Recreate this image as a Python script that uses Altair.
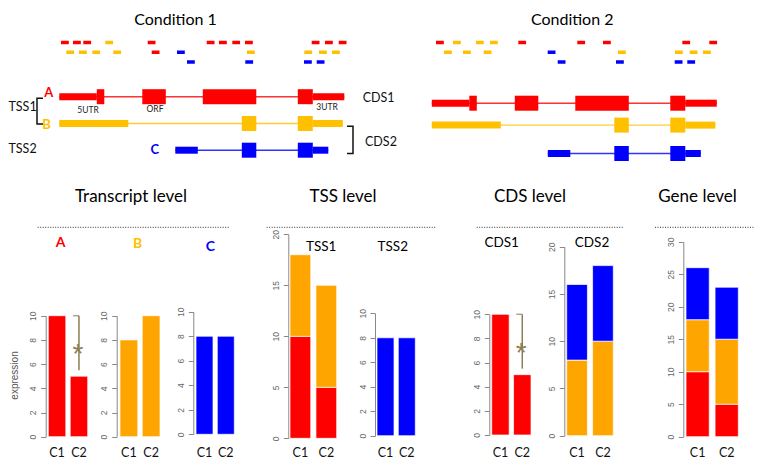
import altair as alt
import pandas as pd

# ---------------- data ----------------
transcripts = ["A", "B", "C"]
conditions = ["C1", "C2"]

# gene models, bp from the start of transcript A
exon_tx = ["A", "A", "A", "A", "A", "A", "B", "B", "B", "B", "C", "C", "C", "C"]
exon_start = [0, 375, 830, 1435, 2385, 2535, 0, 1825, 2385, 2535, 1160, 1825, 2385, 2535]
exon_end = [375, 450, 1065, 1970, 2535, 2850, 690, 1970, 2535, 2835, 1385, 1970, 2535, 2690]
exon_kind = ["UTR", "CDS", "CDS", "CDS", "CDS", "UTR", "UTR", "CDS", "CDS", "UTR", "UTR", "CDS", "CDS", "UTR"]
GENE_LEN = 2850
READ_LEN = 78

# short reads, condition 1
reads1_start = [17, 137, 240, 460, 884, 1474, 1597, 1730, 1857, 2524, 2657, 2794,
                70, 197, 330, 540, 924, 1177, 1877, 2450, 2597, 2727,
                1277, 1860, 2447, 2574]
reads1_row = [1, 1, 1, 1, 1, 1, 1, 1, 1, 1, 1, 1,
              2, 2, 2, 2, 2, 2, 2, 2, 2, 2,
              3, 3, 3, 3]
reads1_tx = ["A", "A", "A", "B", "A", "A", "A", "A", "A", "A", "A", "A",
             "B", "B", "B", "B", "A", "C", "B", "B", "B", "B",
             "C", "C", "C", "C"]
# short reads, condition 2
reads2_start = [42, 212, 442, 582, 865, 1455, 1712, 2505, 2775,
                122, 312, 519, 1159, 1862, 2432, 2579, 2712,
                1259, 1842, 2429, 2555]
reads2_row = [1, 1, 1, 1, 1, 1, 1, 1, 1,
              2, 2, 2, 2, 2, 2, 2, 2,
              3, 3, 3, 3]
reads2_tx = ["A", "B", "B", "B", "A", "A", "A", "A", "A",
             "B", "B", "B", "C", "B", "B", "B", "B",
             "C", "C", "C", "C"]

# expression per transcript (C1, C2)
expr_A = [10, 5]
expr_B = [8, 10]
expr_C = [8, 8]

# significance marker (transcript A and CDS1, condition C2)
sig_cond = ["C2"]
sig_top = [10]
sig_bottom = [5.5]
sig_star = [7.4]

# diagram annotations
letter_bp = [-60, -86, 997]
letter_track = [0.86, 2.04, 3.01]
region_names = ["5UTR", "ORF", "3UTR"]
region_bp = [287, 957, 2677]
region_track = [1.5, 1.45, 1.385]
group_names = ["TSS1", "TSS2", "CDS1", "CDS2"]
group_bp = [-508, -508, 3034, 3057]
group_track = [1.40, 2.96, 1.06, 2.71]
bracket_id = ["TSS1"] * 4 + ["CDS2"] * 4
bracket_ord = [0, 1, 2, 3, 0, 1, 2, 3]
bracket_bp = [-163, -223, -223, -163, 2877, 2937, 2937, 2877]
bracket_track = [1.06, 1.06, 2.02, 2.02, 2.1, 2.1, 3.12, 3.12]

# ---------------- style / layout ----------------
FONT = "Lato"
DIAG_COLORS = ["#FF0000", "#FFC000", "#0000FF"]
BAR_COLORS = ["#FF0000", "#FFA500", "#0000FF"]
OLIVE = "#8C7F55"
W, H = 746, 451
XLAB_Y = 444.5

exons = pd.DataFrame({"tx": exon_tx, "start": exon_start, "end": exon_end, "kind": exon_kind})
exons["track"] = exons["tx"].map({t: i + 1 for i, t in enumerate(transcripts)})
reads1 = pd.DataFrame({"start": reads1_start, "row": reads1_row, "tx": reads1_tx})
reads2 = pd.DataFrame({"start": reads2_start, "row": reads2_row, "tx": reads2_tx})


def txt(text, x, y, size, color="#000000", weight="normal", font=FONT, align="center", baseline="middle"):
    return alt.Chart(pd.DataFrame({"t": [text]})).mark_text(
        font=font, fontSize=size, color=color, fontWeight=weight, align=align, baseline=baseline
    ).encode(text="t:N", x=alt.value(x), y=alt.value(y))


def sep(x0, x1, y):
    return alt.Chart(pd.DataFrame({"k": [0]})).mark_rule(
        strokeDash=[1, 1.5], color="#333333", strokeWidth=1
    ).encode(x=alt.value(x0), x2=alt.value(x1), y=alt.value(y))


def diagram(xr, yr, reads, annotate=False):
    xs = alt.Scale(domain=[0, GENE_LEN], range=xr, nice=False, zero=False)
    ys = alt.Scale(domain=[1, 2, 3], range=yr, nice=False, zero=False)
    cs = alt.Scale(domain=transcripts, range=DIAG_COLORS)
    col = alt.Color("tx:N", scale=cs, legend=None)
    base = alt.Chart(exons)
    intr = base.mark_rule(strokeWidth=1.4, opacity=0.8).encode(
        x=alt.X("min(start):Q", scale=xs, axis=None),
        x2="max(end):Q",
        y=alt.Y("track:Q", scale=ys, axis=None),
        color=col,
    )
    ex = base.mark_rule(strokeCap="butt").encode(
        x=alt.X("start:Q", scale=xs, axis=None),
        x2="end:Q",
        y=alt.Y("track:Q", scale=ys, axis=None),
        color=col,
        strokeWidth=alt.StrokeWidth("kind:N", scale=alt.Scale(domain=["UTR", "CDS"], range=[7, 15]), legend=None),
    )
    rd = alt.Chart(reads).transform_calculate(end=f"datum.start + {READ_LEN}").mark_rule(
        strokeWidth=3.5, strokeCap="butt"
    ).encode(
        x=alt.X("start:Q", scale=xs, axis=None),
        x2="end:Q",
        y=alt.Y("row:Q", scale=alt.Scale(domain=[1, 3], range=[34.5, 54], nice=False, zero=False), axis=None),
        color=col,
    )
    out = [intr, ex, rd]
    if annotate:
        letters = alt.Chart(pd.DataFrame({"tx": transcripts, "bp": letter_bp, "track": letter_track})).mark_text(
            font=FONT, fontSize=13, fontWeight="bold", align="right", baseline="middle"
        ).encode(
            x=alt.X("bp:Q", scale=xs, axis=None),
            y=alt.Y("track:Q", scale=ys, axis=None),
            text="tx:N",
            color=col,
        )
        regions = alt.Chart(pd.DataFrame({"n": region_names, "bp": region_bp, "track": region_track})).mark_text(
            font=FONT, fontSize=8.5, color="#222222", align="center", baseline="middle"
        ).encode(
            x=alt.X("bp:Q", scale=xs, axis=None),
            y=alt.Y("track:Q", scale=ys, axis=None),
            text="n:N",
        )
        groups = alt.Chart(pd.DataFrame({"n": group_names, "bp": group_bp, "track": group_track})).mark_text(
            font=FONT, fontSize=12.5, color="#111111", align="left", baseline="middle"
        ).encode(
            x=alt.X("bp:Q", scale=xs, axis=None),
            y=alt.Y("track:Q", scale=ys, axis=None),
            text="n:N",
        )
        brackets = alt.Chart(pd.DataFrame({"id": bracket_id, "o": bracket_ord, "bp": bracket_bp,
                                           "track": bracket_track})).mark_line(
            color="#111111", strokeWidth=1.5
        ).encode(
            x=alt.X("bp:Q", scale=xs, axis=None),
            y=alt.Y("track:Q", scale=ys, axis=None),
            detail="id:N",
            order="o:Q",
        )
        out += [letters, regions, groups, brackets]
    return out


expr = {"A": expr_A, "B": expr_B, "C": expr_C}


def panel_df(txs):
    rows = []
    for t in txs:
        for c, v in zip(conditions, expr[t]):
            rows.append({"tx": t, "cond": c, "value": v})
    return pd.DataFrame(rows)


geo = {
    "A": dict(ax=37.7, xr=[40.3, 79.7], yr=[428.7, 307.7], ymax=10, step=2),
    "B": dict(ax=108.7, xr=[112, 152], yr=[428.7, 307.7], ymax=10, step=2),
    "C": dict(ax=185.3, xr=[188, 226.3], yr=[426.3, 303.7], ymax=10, step=2),
    "TSS1": dict(ax=280.3, xr=[282, 328.7], yr=[430.3, 226.3], ymax=20, step=5),
    "TSS2": dict(ax=367, xr=[369, 407.3], yr=[427.7, 305.3], ymax=10, step=2),
    "CDS1": dict(ax=481.3, xr=[483.7, 523], yr=[427, 306.3], ymax=10, step=2),
    "CDS2": dict(ax=556.3, xr=[558.7, 605.3], yr=[427.7, 238.7], ymax=20, step=5),
    "Gene": dict(ax=675.3, xr=[678, 730.3], yr=[428.7, 233.7], ymax=30, step=5),
}


def panel(name, txs, sig=False, title=None):
    g = geo[name]
    df = panel_df(txs)
    xs = alt.Scale(domain=conditions, range=g["xr"], paddingInner=0.2, paddingOuter=0)
    ys = alt.Scale(domain=[0, g["ymax"]], range=g["yr"], nice=False, zero=True)
    title_kw = dict(title=None)
    if title:
        title_kw = dict(title=title, titleX=-31.7, titleY=367, titleAngle=270, titleAlign="center",
                        titleBaseline="middle", titleFont="Liberation Sans", titleFontSize=10,
                        titleFontWeight="normal", titleColor="#555555")
    yaxis = alt.Axis(orient="left", offset=-g["ax"], values=list(range(0, g["ymax"] + 1, g["step"])),
                     grid=False, labelAngle=270, labelAlign="center", labelBaseline="alphabetic",
                     labelFont="Liberation Sans", labelFontSize=8.5, labelColor="#666666", labelPadding=5,
                     tickSize=5, tickColor="#888888", domainColor="#888888", labelOverlap=False,
                     labelBound=False, labelFlush=False, **title_kw)
    xaxis = alt.Axis(orient="bottom", offset=XLAB_Y - H, ticks=False, domain=False, tickSize=0,
                     labelPadding=0, labelBaseline="middle", labelAngle=0, labelFont=FONT,
                     labelFontSize=12.5, labelColor="#111111", grid=False, title=None)
    bars = alt.Chart(df).mark_bar(stroke="white", strokeWidth=0.7).encode(
        x=alt.X("cond:N", scale=xs, axis=xaxis),
        y=alt.Y("value:Q", scale=ys, axis=yaxis, stack="zero"),
        color=alt.Color("tx:N", scale=alt.Scale(domain=transcripts, range=BAR_COLORS), legend=None),
        order=alt.Order("tx:N", sort="ascending"),
    )
    out = [bars]
    if sig:
        sdf = pd.DataFrame({"cond": sig_cond, "top": sig_top, "bottom": sig_bottom, "star": sig_star})
        sx = alt.X("cond:N", scale=xs, axis=None)
        rule = alt.Chart(sdf).mark_rule(color=OLIVE, strokeWidth=1.5).encode(
            x=sx, y=alt.Y("top:Q", scale=ys, axis=None), y2="bottom:Q")
        cap = alt.Chart(sdf).mark_tick(color=OLIVE, thickness=1.5, size=6, xOffset=-3, orient="horizontal").encode(
            x=sx, y=alt.Y("top:Q", scale=ys, axis=None))
        star = alt.Chart(sdf).mark_text(text="*", font="Liberation Sans", fontSize=28, color=OLIVE,
                                        baseline="alphabetic", align="center", dy=16).encode(
            x=sx, y=alt.Y("star:Q", scale=ys, axis=None))
        out += [rule, cap, star]
    return out


layers = []
# top diagram
layers += [txt("Condition 1", 167.5, 4, 16, baseline="top"),
           txt("Condition 2", 564.2, 4, 16, baseline="top")]
layers += diagram([51.3, 336.3], [88.7, 115.5, 142.2], reads1, annotate=True)
layers += diagram([423.8, 708.8], [95.2, 117.1, 145.5], reads2)

# section titles and separators
layers += [txt("Transcript level", 123, 194, 17, baseline="alphabetic"),
           txt("TSS level", 335, 194, 17, baseline="alphabetic"),
           txt("CDS level", 522, 194, 17, baseline="alphabetic"),
           txt("Gene level", 689.5, 194, 17, baseline="alphabetic")]
layers += [sep(29.7, 222, 219.3), sep(258.7, 428.7, 219.3), sep(468.7, 616, 219.3), sep(647, 750.3, 219.3)]

# panel labels
layers += [txt("A", 52.5, 235, 14, color=DIAG_COLORS[0], weight="bold"),
           txt("B", 129.5, 236, 14, color=DIAG_COLORS[1], weight="bold"),
           txt("C", 202.3, 238.7, 14, color=DIAG_COLORS[2], weight="bold"),
           txt("TSS1", 313.2, 238.7, 13.5),
           txt("TSS2", 384.8, 238.7, 13.5),
           txt("CDS1", 493.7, 235.3, 13.5),
           txt("CDS2", 584, 234.7, 13.5)]

# bar panels
layers += panel("A", ["A"], sig=True, title="expression")
layers += panel("B", ["B"])
layers += panel("C", ["C"])
layers += panel("TSS1", ["A", "B"])
layers += panel("TSS2", ["C"])
layers += panel("CDS1", ["A"], sig=True)
layers += panel("CDS2", ["B", "C"])
layers += panel("Gene", ["A", "B", "C"])

chart = alt.layer(*layers).resolve_scale(
    x="independent", y="independent", color="independent", strokeWidth="independent"
).properties(
    width=W, height=H, autosize=alt.AutoSizeParams(type="none"), padding=0, background="white"
).configure_view(stroke=None)

chart.save("out.html", embed_options={"renderer": "svg", "actions": False})
